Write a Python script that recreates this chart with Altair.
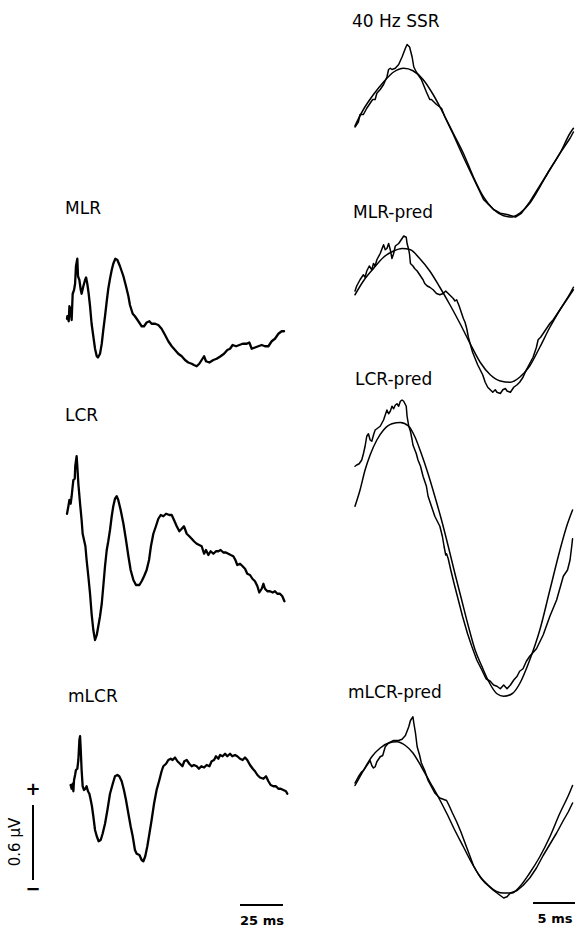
import altair as alt
import pandas as pd

# Canvas size (whole figure)
W, H = 575, 927
GAIN = 125.0          # px per microvolt, shared by every trace
LEFT_K = 1.72         # px per ms, transient responses
RIGHT_K = 8.4         # px per ms, steady-state panels

# ---- Transient responses (time in ms, amplitude in µV) ----
MLR = [(0, 0.09), (0.2, 0.11), (1.0, 0.07), (1.4, 0.19), (2.1, 0.16), (2.7, 0.08), (3.3, 0.29),
       (4.1, 0.32), (4.7, 0.37), (5.2, 0.51), (6.0, 0.57), (6.4, 0.43), (7.2, 0.40), (8.0, 0.32),
       (8.5, 0.29), (9.5, 0.35), (10.5, 0.40), (11.1, 0.42), (11.8, 0.37), (12.6, 0.29), (13.4, 0.19),
       (14.3, 0.05), (15.3, -0.05), (16.3, -0.15), (17.3, -0.21), (18.0, -0.22), (19.2, -0.19),
       (20.2, -0.11), (21.1, 0.0), (22.1, 0.11), (23.1, 0.23), (24.0, 0.33), (25.0, 0.41), (26.0, 0.48),
       (26.9, 0.53), (28.1, 0.57), (29.3, 0.56), (30.8, 0.51), (32.8, 0.43), (34.3, 0.35), (35.7, 0.27),
       (36.6, 0.20), (38.2, 0.13), (39.5, 0.11), (41.5, 0.07), (43.4, 0.03), (44.8, 0.03), (46.3, 0.06),
       (47.9, 0.07), (49.2, 0.05), (51.2, 0.05), (53.1, 0.04), (55.0, 0.01), (57.0, -0.04), (58.9, -0.09),
       (60.9, -0.13), (62.8, -0.16), (64.7, -0.19), (66.7, -0.21), (68.6, -0.24), (70.5, -0.26),
       (72.5, -0.27), (73.8, -0.28), (75.4, -0.29), (76.9, -0.27), (78.3, -0.24), (79.7, -0.21),
       (80.8, -0.25), (82.8, -0.26), (85.1, -0.24), (87.0, -0.23), (89.3, -0.21), (91.3, -0.19),
       (93.2, -0.16), (94.8, -0.15), (96.3, -0.12), (98.3, -0.13), (100.2, -0.12), (102.1, -0.11),
       (104.5, -0.11), (106.0, -0.10), (107.4, -0.15), (109.3, -0.14), (111.2, -0.13), (113.2, -0.12),
       (115.1, -0.13), (117.1, -0.13), (119.0, -0.09), (120.9, -0.07), (122.9, -0.03), (124.8, -0.01),
       (126.2, -0.01)]

LCR = [(0, 0.21), (0.8, 0.27), (1.4, 0.32), (2.1, 0.29), (2.7, 0.35), (3.3, 0.43), (3.7, 0.48),
       (4.5, 0.49), (4.8, 0.59), (5.6, 0.67), (6.0, 0.59), (6.6, 0.45), (7.6, 0.29), (8.5, 0.16),
       (9.1, 0.05), (9.9, 0.0), (10.7, -0.05), (11.4, -0.16), (12.4, -0.29), (13.4, -0.43), (14.3, -0.59),
       (15.3, -0.72), (16.3, -0.80), (17.3, -0.76), (18.2, -0.69), (19.2, -0.61), (20.2, -0.51),
       (21.1, -0.37), (22.1, -0.21), (23.1, -0.08), (24.0, -0.01), (25.0, 0.08), (26.0, 0.19),
       (26.9, 0.27), (27.9, 0.33), (28.9, 0.35), (29.8, 0.32), (31.2, 0.24), (32.8, 0.13), (34.3, 0.0),
       (35.7, -0.13), (37.0, -0.24), (38.6, -0.32), (40.1, -0.36), (42.1, -0.36), (43.4, -0.33),
       (44.8, -0.29), (46.3, -0.24), (47.7, -0.16), (48.8, -0.05), (50.2, 0.05), (51.7, 0.11),
       (53.1, 0.17), (54.5, 0.20), (56.0, 0.19), (57.6, 0.21), (59.5, 0.20), (60.9, 0.20), (62.2, 0.16),
       (63.8, 0.11), (65.3, 0.07), (66.7, 0.09), (68.0, 0.11), (69.6, 0.05), (71.1, 0.03), (72.5, 0.01),
       (73.8, -0.01), (75.4, -0.03), (76.9, -0.04), (78.3, -0.05), (79.7, -0.11), (80.8, -0.08),
       (82.2, -0.12), (83.5, -0.09), (85.1, -0.11), (86.6, -0.09), (88.0, -0.09), (89.3, -0.08),
       (90.9, -0.10), (92.4, -0.10), (93.8, -0.11), (95.2, -0.12), (96.7, -0.13), (97.9, -0.16),
       (99.0, -0.20), (100.6, -0.19), (102.1, -0.21), (103.5, -0.23), (104.8, -0.27), (106.4, -0.28),
       (107.8, -0.31), (109.3, -0.33), (110.7, -0.37), (111.8, -0.42), (113.2, -0.39), (114.2, -0.35),
       (115.1, -0.39), (116.5, -0.41), (118.0, -0.41), (119.6, -0.42), (120.9, -0.41), (122.3, -0.43),
       (123.8, -0.43), (125.2, -0.45), (126.4, -0.49)]

MLCR = [(2.1, -0.04), (2.7, -0.07), (3.3, -0.03), (3.7, -0.09), (4.1, 0.0), (4.7, 0.04), (5.2, 0.08),
        (6.0, 0.09), (6.6, 0.16), (7.2, 0.32), (7.6, 0.35), (8.0, 0.24), (8.5, 0.08), (9.1, -0.05),
        (9.9, -0.08), (10.7, -0.07), (11.4, -0.05), (12.2, -0.09), (13.0, -0.11), (13.8, -0.16),
        (14.5, -0.21), (15.3, -0.29), (16.3, -0.40), (17.3, -0.45), (18.4, -0.49), (19.6, -0.48),
        (20.7, -0.43), (22.1, -0.35), (23.5, -0.24), (25.0, -0.11), (26.6, -0.03), (27.9, 0.03),
        (29.3, 0.04), (30.4, 0.03), (31.8, -0.01), (33.1, -0.08), (34.3, -0.16), (35.7, -0.27),
        (37.0, -0.37), (38.2, -0.45), (39.5, -0.56), (40.5, -0.59), (42.1, -0.60), (43.4, -0.64),
        (44.4, -0.65), (45.5, -0.61), (46.7, -0.53), (47.9, -0.43), (49.2, -0.32), (50.6, -0.19),
        (52.1, -0.08), (53.7, 0.0), (55.0, 0.07), (56.0, 0.11), (57.6, 0.13), (58.9, 0.16), (60.3, 0.17),
        (61.4, 0.16), (62.8, 0.18), (64.2, 0.15), (65.7, 0.13), (67.1, 0.11), (68.2, 0.15), (69.6, 0.16),
        (71.1, 0.13), (72.5, 0.11), (73.8, 0.12), (75.4, 0.11), (76.7, 0.09), (78.1, 0.11), (79.7, 0.10),
        (81.2, 0.12), (82.8, 0.11), (84.1, 0.15), (85.5, 0.16), (86.6, 0.19), (88.0, 0.17), (89.0, 0.20),
        (90.5, 0.19), (91.9, 0.21), (93.2, 0.19), (94.8, 0.21), (96.1, 0.19), (97.7, 0.20), (99.0, 0.19),
        (100.6, 0.17), (102.1, 0.16), (103.5, 0.18), (104.8, 0.16), (106.4, 0.12), (108.0, 0.09),
        (109.3, 0.07), (110.7, 0.04), (112.2, 0.02), (114.2, 0.01), (115.7, 0.03), (117.1, -0.01),
        (118.4, -0.04), (120.0, -0.05), (121.5, -0.05), (122.9, -0.07), (124.2, -0.07), (125.8, -0.08),
        (127.3, -0.09), (128.1, -0.11)]

# ---- 40 Hz steady-state panels: recorded/predicted trace and fitted sinusoid ----
SSR_TRACE = [(0, 0.12), (0.4, 0.16), (0.6, 0.22), (1.0, 0.22), (1.4, 0.27), (1.8, 0.31), (2.1, 0.34),
             (2.4, 0.34), (2.6, 0.39), (3.0, 0.42), (3.4, 0.46), (3.8, 0.52), (4.0, 0.58), (4.2, 0.59),
             (4.4, 0.58), (4.8, 0.59), (5.2, 0.62), (5.6, 0.68), (6.0, 0.75), (6.2, 0.78), (6.5, 0.76),
             (6.8, 0.68), (7.0, 0.60), (7.3, 0.56), (7.5, 0.54), (7.9, 0.50), (8.5, 0.40), (8.9, 0.34),
             (9.1, 0.34), (9.7, 0.30), (10.3, 0.27), (10.7, 0.20), (11.7, 0.06), (12.9, -0.12),
             (14.1, -0.29), (15.3, -0.46), (15.9, -0.50), (16.5, -0.54), (17.3, -0.57), (18.1, -0.58),
             (19.1, -0.60), (19.8, -0.57), (20.8, -0.48), (22.0, -0.35), (23.2, -0.22), (24.4, -0.09),
             (25.2, -0.01), (25.6, 0.03), (26.0, 0.08)]
SSR_FIT = [(0, 0.13), (1.0, 0.26), (2.2, 0.38), (3.4, 0.48), (4.6, 0.56), (5.8, 0.59), (6.9, 0.57),
           (8.1, 0.50), (9.3, 0.38), (10.5, 0.23), (11.7, 0.07), (12.9, -0.09), (14.1, -0.28),
           (15.3, -0.44), (16.5, -0.54), (17.7, -0.59), (18.7, -0.60), (19.6, -0.57), (20.8, -0.49),
           (22.0, -0.36), (23.2, -0.22), (24.4, -0.09), (25.6, 0.07), (26.0, 0.11)]

MLR_PRED = [(0, 0.20), (0.2, 0.24), (0.6, 0.29), (1.0, 0.33), (1.2, 0.31), (1.4, 0.36), (1.7, 0.40),
            (2.0, 0.37), (2.2, 0.42), (2.4, 0.40), (2.6, 0.45), (3.0, 0.50), (3.4, 0.57), (3.6, 0.53),
            (3.8, 0.54), (4.0, 0.58), (4.2, 0.53), (4.4, 0.46), (4.6, 0.50), (4.8, 0.56), (5.2, 0.58),
            (5.4, 0.60), (5.6, 0.62), (5.8, 0.64), (6.1, 0.63), (6.2, 0.58), (6.4, 0.53), (6.5, 0.49),
            (6.6, 0.42), (6.9, 0.40), (7.1, 0.38), (7.4, 0.36), (7.7, 0.33), (8.1, 0.29), (8.3, 0.26),
            (8.6, 0.24), (8.9, 0.23), (9.3, 0.21), (9.7, 0.18), (10.1, 0.17), (10.5, 0.18), (10.8, 0.20),
            (11.1, 0.18), (11.4, 0.16), (11.7, 0.14), (11.9, 0.12), (12.1, 0.13), (12.4, 0.08),
            (12.7, 0.02), (12.9, -0.02), (13.1, -0.05), (13.3, -0.10), (13.5, -0.17), (13.7, -0.22),
            (14.0, -0.29), (14.3, -0.34), (14.6, -0.39), (14.9, -0.43), (15.2, -0.47), (15.5, -0.53),
            (15.8, -0.57), (16.1, -0.59), (16.4, -0.61), (16.7, -0.59), (16.9, -0.61), (17.3, -0.62),
            (17.6, -0.59), (17.9, -0.58), (18.1, -0.60), (18.5, -0.61), (18.9, -0.57), (19.3, -0.55),
            (19.6, -0.53), (20.0, -0.49), (20.4, -0.43), (20.8, -0.38), (21.2, -0.33), (21.6, -0.25),
            (21.8, -0.19), (22.1, -0.17), (22.4, -0.14), (22.8, -0.10), (23.2, -0.06), (23.6, -0.03),
            (24.0, 0.01), (24.4, 0.05), (24.8, 0.09), (25.2, 0.13), (25.6, 0.17), (26.0, 0.21)]
MLR_PRED_FIT = [(0, 0.17), (1.0, 0.28), (2.2, 0.38), (3.4, 0.47), (4.6, 0.52), (5.6, 0.54), (6.6, 0.53),
                (7.7, 0.46), (8.9, 0.36), (10.1, 0.23), (11.3, 0.09), (12.5, -0.06), (13.7, -0.22),
                (14.9, -0.37), (16.1, -0.47), (17.3, -0.52), (18.5, -0.53), (19.6, -0.49), (20.8, -0.40),
                (22.0, -0.25), (23.2, -0.09), (24.4, 0.05), (25.6, 0.18), (26.0, 0.23)]

LCR_PRED = [(0, 0.75), (0.2, 0.76), (0.5, 0.77), (0.8, 0.80), (1.0, 0.85), (1.2, 0.91), (1.4, 0.99),
            (1.6, 1.01), (1.8, 0.96), (2.0, 0.95), (2.2, 1.00), (2.4, 1.04), (2.6, 1.05), (3.0, 1.07),
            (3.4, 1.12), (3.6, 1.16), (3.8, 1.20), (4.0, 1.17), (4.2, 1.19), (4.4, 1.23), (4.6, 1.21),
            (4.8, 1.24), (5.0, 1.25), (5.2, 1.23), (5.4, 1.27), (5.6, 1.28), (5.8, 1.27), (6.1, 1.23),
            (6.2, 1.15), (6.4, 1.07), (6.6, 1.03), (6.8, 0.96), (6.9, 0.92), (7.3, 0.85), (7.5, 0.80),
            (7.8, 0.75), (8.1, 0.67), (8.5, 0.59), (8.7, 0.51), (9.1, 0.43), (9.5, 0.35), (9.8, 0.31),
            (10.1, 0.27), (10.4, 0.19), (10.6, 0.11), (10.8, 0.04), (10.9, 0.05), (11.1, 0.01),
            (11.4, -0.08), (11.8, -0.19), (12.3, -0.32), (12.8, -0.45), (13.4, -0.59), (13.9, -0.69),
            (14.5, -0.80), (15.1, -0.88), (15.6, -0.95), (16.1, -0.97), (16.5, -1.00), (16.9, -1.01),
            (17.3, -1.03), (17.7, -1.00), (18.1, -1.03), (18.5, -1.00), (18.9, -0.96), (19.3, -0.93),
            (19.6, -0.89), (20.0, -0.87), (20.4, -0.81), (20.8, -0.77), (21.6, -0.71), (22.4, -0.60),
            (23.2, -0.45), (24.0, -0.32), (24.8, -0.13), (25.3, -0.08), (25.6, 0.0), (25.8, 0.11),
            (25.9, 0.17)]
LCR_PRED_FIT = [(0, 0.43), (0.6, 0.56), (1.2, 0.72), (1.8, 0.84), (2.6, 0.96), (3.4, 1.04), (4.4, 1.09),
                (5.4, 1.10), (6.4, 1.07), (7.1, 0.99), (7.9, 0.85), (8.7, 0.69), (9.5, 0.51), (10.3, 0.32),
                (11.1, 0.11), (11.9, -0.11), (12.7, -0.32), (13.5, -0.53), (14.3, -0.72), (15.1, -0.85),
                (15.9, -0.97), (16.9, -1.07), (17.7, -1.09), (18.7, -1.07), (19.6, -0.99), (20.8, -0.80),
                (22.0, -0.56), (23.2, -0.24), (24.4, 0.08), (25.2, 0.27), (25.9, 0.40)]

MLCR_PRED = [(0, 0.28), (0.4, 0.33), (0.8, 0.37), (1.0, 0.38), (1.3, 0.41), (1.6, 0.44), (1.8, 0.46),
             (2.0, 0.42), (2.2, 0.40), (2.4, 0.41), (2.6, 0.45), (3.0, 0.49), (3.3, 0.50), (3.6, 0.57),
             (4.0, 0.60), (4.6, 0.62), (5.2, 0.62), (5.6, 0.63), (6.0, 0.66), (6.4, 0.73), (6.6, 0.78),
             (6.9, 0.81), (7.0, 0.76), (7.2, 0.68), (7.4, 0.57), (7.7, 0.50), (7.9, 0.44), (8.3, 0.38),
             (8.7, 0.30), (9.1, 0.25), (9.5, 0.20), (9.8, 0.18), (10.1, 0.16), (10.5, 0.15), (10.9, 0.14),
             (11.2, 0.10), (11.6, 0.04), (12.1, -0.03), (12.6, -0.11), (13.1, -0.20), (13.6, -0.29),
             (14.1, -0.38), (14.6, -0.44), (15.1, -0.49), (15.5, -0.52), (16.0, -0.55), (16.5, -0.58),
             (16.9, -0.60), (17.3, -0.62), (17.7, -0.64), (18.1, -0.63), (18.5, -0.60), (18.9, -0.59),
             (19.3, -0.58), (20.0, -0.54), (20.8, -0.48), (21.6, -0.40), (22.4, -0.30), (23.2, -0.21),
             (24.0, -0.12), (24.8, -0.02), (25.4, 0.05), (25.9, 0.12)]
MLCR_PRED_FIT = [(0, 0.26), (1.0, 0.38), (2.0, 0.49), (3.0, 0.56), (4.0, 0.60), (5.0, 0.61), (6.0, 0.58),
                 (6.9, 0.52), (7.9, 0.41), (8.9, 0.29), (9.9, 0.17), (10.9, 0.04), (11.9, -0.10),
                 (12.9, -0.23), (13.9, -0.36), (14.9, -0.47), (15.9, -0.54), (16.9, -0.59), (17.7, -0.60),
                 (18.7, -0.60), (19.6, -0.55), (20.8, -0.44), (22.0, -0.31), (23.2, -0.15), (24.4, 0.04),
                 (25.4, 0.18), (25.9, 0.26)]

# ---- Panel placement: (x of t = 0, px per ms, y of 0 µV) ----
LEFT_X0, RIGHT_X0 = 67, 355
PANELS = {
    "MLR": (MLR, LEFT_X0, LEFT_K, 330),
    "LCR": (LCR, LEFT_X0, LEFT_K, 540),
    "mLCR": (MLCR, LEFT_X0, LEFT_K, 780),
}
SS_PANELS = {
    "40 Hz SSR": (SSR_TRACE, SSR_FIT, 142),
    "MLR-pred": (MLR_PRED, MLR_PRED_FIT, 316),
    "LCR-pred": (LCR_PRED, LCR_PRED_FIT, 560),
    "mLCR-pred": (MLCR_PRED, MLCR_PRED_FIT, 818),
}

# Panel labels: text, left x, baseline y
LABELS = [("MLR", 65, 214), ("LCR", 65, 421), ("mLCR", 68, 702),
          ("40 Hz SSR", 352, 27), ("MLR-pred", 353, 218), ("LCR-pred", 355, 385),
          ("mLCR-pred", 348, 698)]

FONT = "DejaVu Sans"


def scales(x0, k, y0):
    """Domains that put t=0 at pixel x0 and 0 µV at pixel y0 on the full canvas."""
    xs = alt.Scale(domain=[-x0 / k, (W - x0) / k], nice=False, zero=False)
    ys = alt.Scale(domain=[-(H - y0) / GAIN, y0 / GAIN], nice=False, zero=False)
    return xs, ys


def trace(points, x0, k, y0, width, smooth=False):
    df = pd.DataFrame(points, columns=["t", "uv"])
    xs, ys = scales(x0, k, y0)
    return alt.Chart(df).mark_line(
        color="black", strokeWidth=width, strokeJoin="round", strokeCap="round",
        interpolate="monotone" if smooth else "linear",
    ).encode(
        x=alt.X("t:Q", scale=xs, axis=None),
        y=alt.Y("uv:Q", scale=ys, axis=None),
    )


layers = []
for name, (pts, x0, k, y0) in PANELS.items():
    layers.append(trace(pts, x0, k, y0, 2.3))
for name, (pts, fit, y0) in SS_PANELS.items():
    layers.append(trace(fit, RIGHT_X0, RIGHT_K, y0, 1.5, smooth=True))
    layers.append(trace(pts, RIGHT_X0, RIGHT_K, y0, 1.5))

for text, lx, ly in LABELS:
    layers.append(
        alt.Chart(pd.DataFrame({"label": [text]})).mark_text(
            align="left", baseline="alphabetic", font=FONT, fontSize=17, color="black"
        ).encode(x=alt.value(lx), y=alt.value(ly), text="label:N")
    )

# Time scale bars
def hbar(ms, x0, k, ypix):
    df = pd.DataFrame({"t0": [0], "t1": [ms]})
    xs, _ = scales(x0, k, 0)
    return alt.Chart(df).mark_rule(color="black", strokeWidth=2).encode(
        x=alt.X("t0:Q", scale=xs, axis=None), x2="t1:Q", y=alt.value(ypix)
    )

layers.append(hbar(25, 240, LEFT_K, 905))
layers.append(hbar(5, 533, RIGHT_K, 903))

# Amplitude scale bar (0.6 µV)
amp_df = pd.DataFrame({"v0": [0.0], "v1": [0.6]})
_, amp_ys = scales(0, 1, 880)
layers.append(
    alt.Chart(amp_df).mark_rule(color="black", strokeWidth=2).encode(
        y=alt.Y("v0:Q", scale=amp_ys, axis=None), y2="v1:Q", x=alt.value(33)
    )
)

SMALL = [("25 ms", 262, 925), ("5 ms", 555, 923)]
for text, cx, cy in SMALL:
    layers.append(
        alt.Chart(pd.DataFrame({"label": [text]})).mark_text(
            align="center", baseline="alphabetic", font=FONT, fontSize=13, fontWeight="bold", color="black"
        ).encode(x=alt.value(cx), y=alt.value(cy), text="label:N")
    )

layers.append(
    alt.Chart(pd.DataFrame({"label": ["0.6 \u00b5V"]})).mark_text(
        align="center", baseline="middle", angle=270, font=FONT, fontSize=15, color="black"
    ).encode(x=alt.value(15), y=alt.value(842), text="label:N")
)
for sign, sy in [("+", 790), ("\u2212", 890)]:
    layers.append(
        alt.Chart(pd.DataFrame({"label": [sign]})).mark_text(
            align="center", baseline="middle", font=FONT, fontSize=18, fontWeight="bold", color="black"
        ).encode(x=alt.value(33), y=alt.value(sy), text="label:N")
    )

chart = alt.layer(*layers).resolve_scale(x="independent", y="independent").properties(
    width=W, height=H, padding=0, autosize="none", background="white"
).configure_view(stroke=None)

chart.save("out.html", embed_options={"renderer": "svg", "actions": False})
